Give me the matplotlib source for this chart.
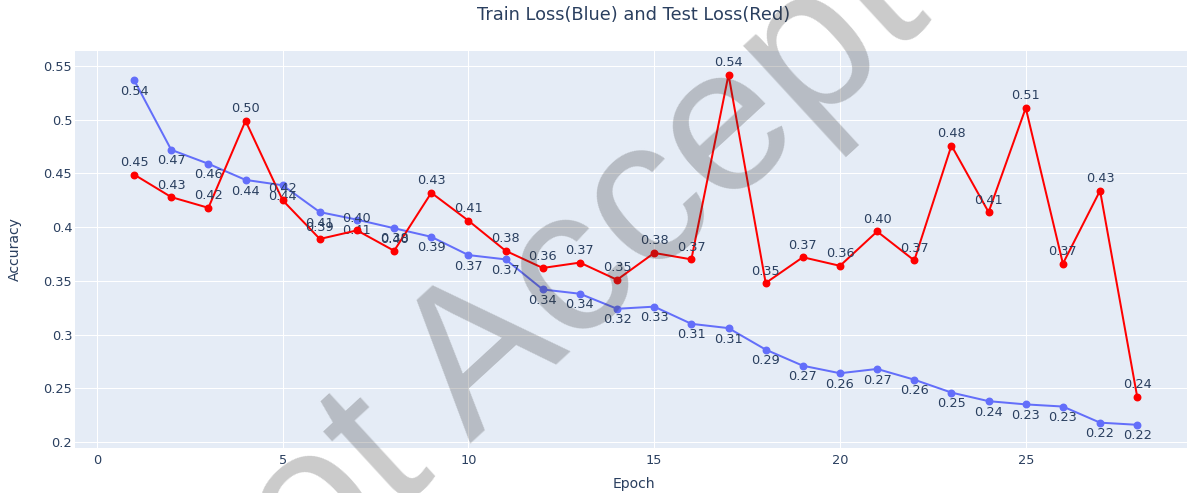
import matplotlib.pyplot as plt

epochs = list(range(1, 29))
train_loss = [0.537, 0.472, 0.459, 0.444, 0.439, 0.414, 0.407, 0.399, 0.391, 0.374,
              0.370, 0.342, 0.338, 0.324, 0.326, 0.310, 0.306, 0.286, 0.271, 0.264,
              0.268, 0.258, 0.246, 0.238, 0.235, 0.233, 0.218, 0.216]
test_loss = [0.449, 0.428, 0.418, 0.499, 0.425, 0.389, 0.397, 0.378, 0.432, 0.406,
             0.378, 0.362, 0.367, 0.351, 0.376, 0.370, 0.542, 0.348, 0.372, 0.364,
             0.396, 0.369, 0.476, 0.414, 0.511, 0.366, 0.434, 0.242]
y_ticks = [0.2, 0.25, 0.3, 0.35, 0.4, 0.45, 0.5, 0.55]
y_tick_labels = ["0.2", "0.25", "0.3", "0.35", "0.4", "0.45", "0.5", "0.55"]
x_ticks = [0, 5, 10, 15, 20, 25]

W, H = 1187, 493
txt = '#2a3f5f'
px = 0.72  # points per pixel at dpi 100

fig = plt.figure(figsize=(W / 100, H / 100), dpi=100)
ax = fig.add_axes([75 / W, 1 - 448 / H, 1 - 75 / W, (448 - 51) / H])
ax.set_facecolor('#E5ECF6')

ax.plot(epochs, train_loss, color='#636EFA', lw=2 * px, marker='o', ms=6.5 * px, zorder=3)
for x, v in zip(epochs, train_loss):
    ax.annotate(f"{v:.2f}", (x, v), xytext=(0, -8), textcoords='offset points',
                ha='center', va='center', fontsize=9.3, color=txt, zorder=4)

ax.plot(epochs, test_loss, color='red', lw=2 * px, marker='o', ms=6.5 * px, zorder=5)
for x, v in zip(epochs, test_loss):
    ax.annotate(f"{v:.2f}", (x, v), xytext=(0, 8.6), textcoords='offset points',
                ha='center', va='center', fontsize=9.3, color=txt, zorder=6)

ax.set_xlim(-0.59, 29.34)
ax.set_ylim(0.1944, 0.564)
ax.set_xticks(x_ticks)
ax.set_yticks(y_ticks)
ax.set_yticklabels(y_tick_labels)
ax.grid(color='white', lw=1 * px)
ax.set_axisbelow(True)
for s in ax.spines.values():
    s.set_visible(False)
ax.tick_params(length=0, labelsize=9.3, labelcolor=txt)
ax.tick_params(axis='y', pad=2)
ax.tick_params(axis='x', pad=4)

fig.text(634 / W, 1 - 14.5 / H, "Train Loss(Blue) and Test Loss(Red)",
         ha='center', va='center', fontsize=12.8, color=txt)
fig.text(634 / W, 1 - 484 / H, "Epoch", ha='center', va='center', fontsize=10.1, color=txt)
fig.text(15 / W, 1 - 249 / H, "Accuracy", ha='center', va='center', rotation=90,
         fontsize=10.1, color=txt)

# watermark
fig.text(652 / W, 1 - 278 / H, "Not Accepted", ha='center', va='baseline',
         rotation=42.6, rotation_mode='anchor', fontsize=148, family='Liberation Sans',
         color='#333333', alpha=0.26, zorder=10)

fig.savefig('out.png', dpi=100)
